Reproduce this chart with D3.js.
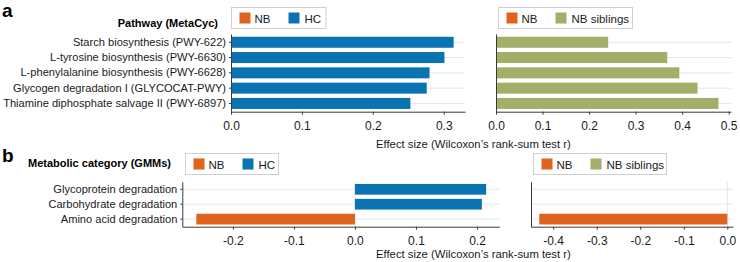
<!DOCTYPE html>
<html><head><meta charset="utf-8">
<script src="https://cdn.jsdelivr.net/npm/d3@7"></script>
<style>
body{margin:0;background:#fff;}
svg{font-family:"Liberation Sans",Arial,Helvetica,sans-serif;}
</style></head>
<body><svg id="c" width="740" height="262"></svg>
<script>
// ---- data ----
const pathways = ["Starch biosynthesis (PWY-622)","L-tyrosine biosynthesis (PWY-6630)","L-phenylalanine biosynthesis (PWY-6628)","Glycogen degradation I (GLYCOCAT-PWY)","Thiamine diphosphate salvage II (PWY-6897)"];
const pathwayHC = [0.314, 0.301, 0.280, 0.276, 0.253];
const pathwaySib = [0.241, 0.368, 0.394, 0.433, 0.478];
const gmms = ["Glycoprotein degradation","Carbohydrate degradation","Amino acid degradation"];
const gmmHC = [0.215, 0.208, -0.260];
const gmmSib = [0, 0, -0.432];
const ticksA1 = [0, 0.1, 0.2, 0.3];
const ticksA2 = [0, 0.1, 0.2, 0.3, 0.4, 0.5];
const ticksB1 = [-0.2, -0.1, 0, 0.1, 0.2];
const ticksB2 = [-0.4, -0.3, -0.2, -0.1, 0];
const legendHC = ["NB","HC"];
const legendSib = ["NB","NB siblings"];
const colors = {NB:"#e0621b", HC:"#0a74b2", "NB siblings":"#a5ae69"};
const xTitle = "Effect size (Wilcoxon\u2019s rank-sum test r)";

const svg = d3.select("#c");
const gridC = "#e6e6e6", axisC = "#3a3a3a";

function panel(opts){
  const {cats, vals, domain, xr, yr, ticks, posColor, negColor, showLabels, zeroLine} = opts;
  const x = d3.scaleLinear().domain(domain).range(xr);
  const y = d3.scaleBand().domain(cats).range(yr).paddingInner(0.28).paddingOuter(opts.po);
  const g = svg.append("g");
  g.selectAll(".gy").data(cats).join("line")
    .attr("x1", xr[0]).attr("x2", xr[1])
    .attr("y1", d=>y(d)+y.bandwidth()/2).attr("y2", d=>y(d)+y.bandwidth()/2)
    .attr("stroke", gridC).attr("stroke-width", 1);
  if (zeroLine) g.append("line").attr("x1", x(0)).attr("x2", x(0)).attr("y1", yr[0]).attr("y2", yr[1])
    .attr("stroke", gridC).attr("stroke-width", 1);
  g.selectAll(".bar").data(cats.map((c,i)=>({c, v:vals[i]})).filter(d=>d.v!==0)).join("rect")
    .attr("x", d=>Math.min(x(0), x(d.v))).attr("width", d=>Math.abs(x(d.v)-x(0)))
    .attr("y", d=>y(d.c)).attr("height", y.bandwidth())
    .attr("fill", d=>d.v>0?posColor:negColor);
  const xa = g.append("g").attr("transform", `translate(0,${yr[1]})`)
    .call(d3.axisBottom(x).tickValues(ticks).tickFormat(d3.format(".1f")).tickSize(3).tickSizeOuter(0));
  xa.select(".domain").attr("stroke", axisC);
  xa.selectAll(".tick line").attr("stroke", axisC);
  xa.selectAll("text").attr("fill","#1a1a1a").style("font-size","12px").attr("dy","1.0em")
    .text(d=>d3.format(".1f")(d).replace("\u2212","-"));
  const ya = g.append("g").attr("transform", `translate(${xr[0]},0)`)
    .call(d3.axisLeft(y).tickSize(2).tickSizeOuter(0).tickPadding(3));
  ya.select(".domain").attr("stroke", axisC);
  ya.selectAll(".tick line").attr("stroke", axisC);
  ya.selectAll("text").attr("fill","#1a1a1a").style("font-size","11.1px");
  if (!showLabels) ya.selectAll(".tick text, .tick line").remove();
}

function legend(x0, y0, w, items){
  const g = svg.append("g").attr("transform", `translate(${x0},${y0})`);
  g.append("rect").attr("width", w).attr("height", 21).attr("fill","#fff").attr("stroke","#cfcfcf");
  const off = [[8,23],[57,73]];
  items.forEach((k,i)=>{
    g.append("rect").attr("x", off[i][0]).attr("y", 5).attr("width", 11).attr("height", 11).attr("fill", colors[k]);
    g.append("text").attr("x", off[i][1]).attr("y", 15).text(k).style("font-size","11.5px").attr("fill","#1a1a1a");
  });
}

panel({cats:pathways, vals:pathwayHC, domain:[0,0.33], xr:[231,465], yr:[34,111.7], po:0.18,
  ticks:ticksA1, posColor:colors.HC, negColor:colors.NB, showLabels:true});
panel({cats:pathways, vals:pathwaySib, domain:[0,0.505], xr:[496,731], yr:[34,111.7], po:0.18,
  ticks:ticksA2, posColor:colors["NB siblings"], negColor:colors.NB, showLabels:false});
panel({cats:gmms, vals:gmmHC, domain:[-0.283,0.2366], xr:[182.3,499.3], yr:[181.7,226.7], po:0.15,
  ticks:ticksB1, posColor:colors.HC, negColor:colors.NB, showLabels:true, zeroLine:true});
panel({cats:gmms, vals:gmmSib, domain:[-0.451,0.013], xr:[531,733], yr:[181.7,226.7], po:0.15,
  ticks:ticksB2, posColor:colors["NB siblings"], negColor:colors.NB, showLabels:false, zeroLine:true});

legend(231.5, 7.5, 94.5, legendHC);
legend(498.5, 7.5, 134, legendSib);
legend(185.5, 153.5, 93, legendHC);
legend(533.5, 153.5, 133, legendSib);

svg.append("text").attr("x",2).attr("y",17).text("a").style("font-size","19px").style("font-weight","bold");
svg.append("text").attr("x",2).attr("y",162).text("b").style("font-size","19px").style("font-weight","bold");
svg.append("text").attr("x",218).attr("y",27).attr("text-anchor","end").text("Pathway (MetaCyc)").style("font-size","11px").style("font-weight","bold");
svg.append("text").attr("x",28).attr("y",167).text("Metabolic category (GMMs)").style("font-size","11px").style("font-weight","bold");
svg.append("text").attr("x",376).attr("y",148).text(xTitle).style("font-size","11.3px").attr("fill","#1a1a1a");
svg.append("text").attr("x",376).attr("y",258).text(xTitle).style("font-size","11.3px").attr("fill","#1a1a1a");
</script></body></html>
